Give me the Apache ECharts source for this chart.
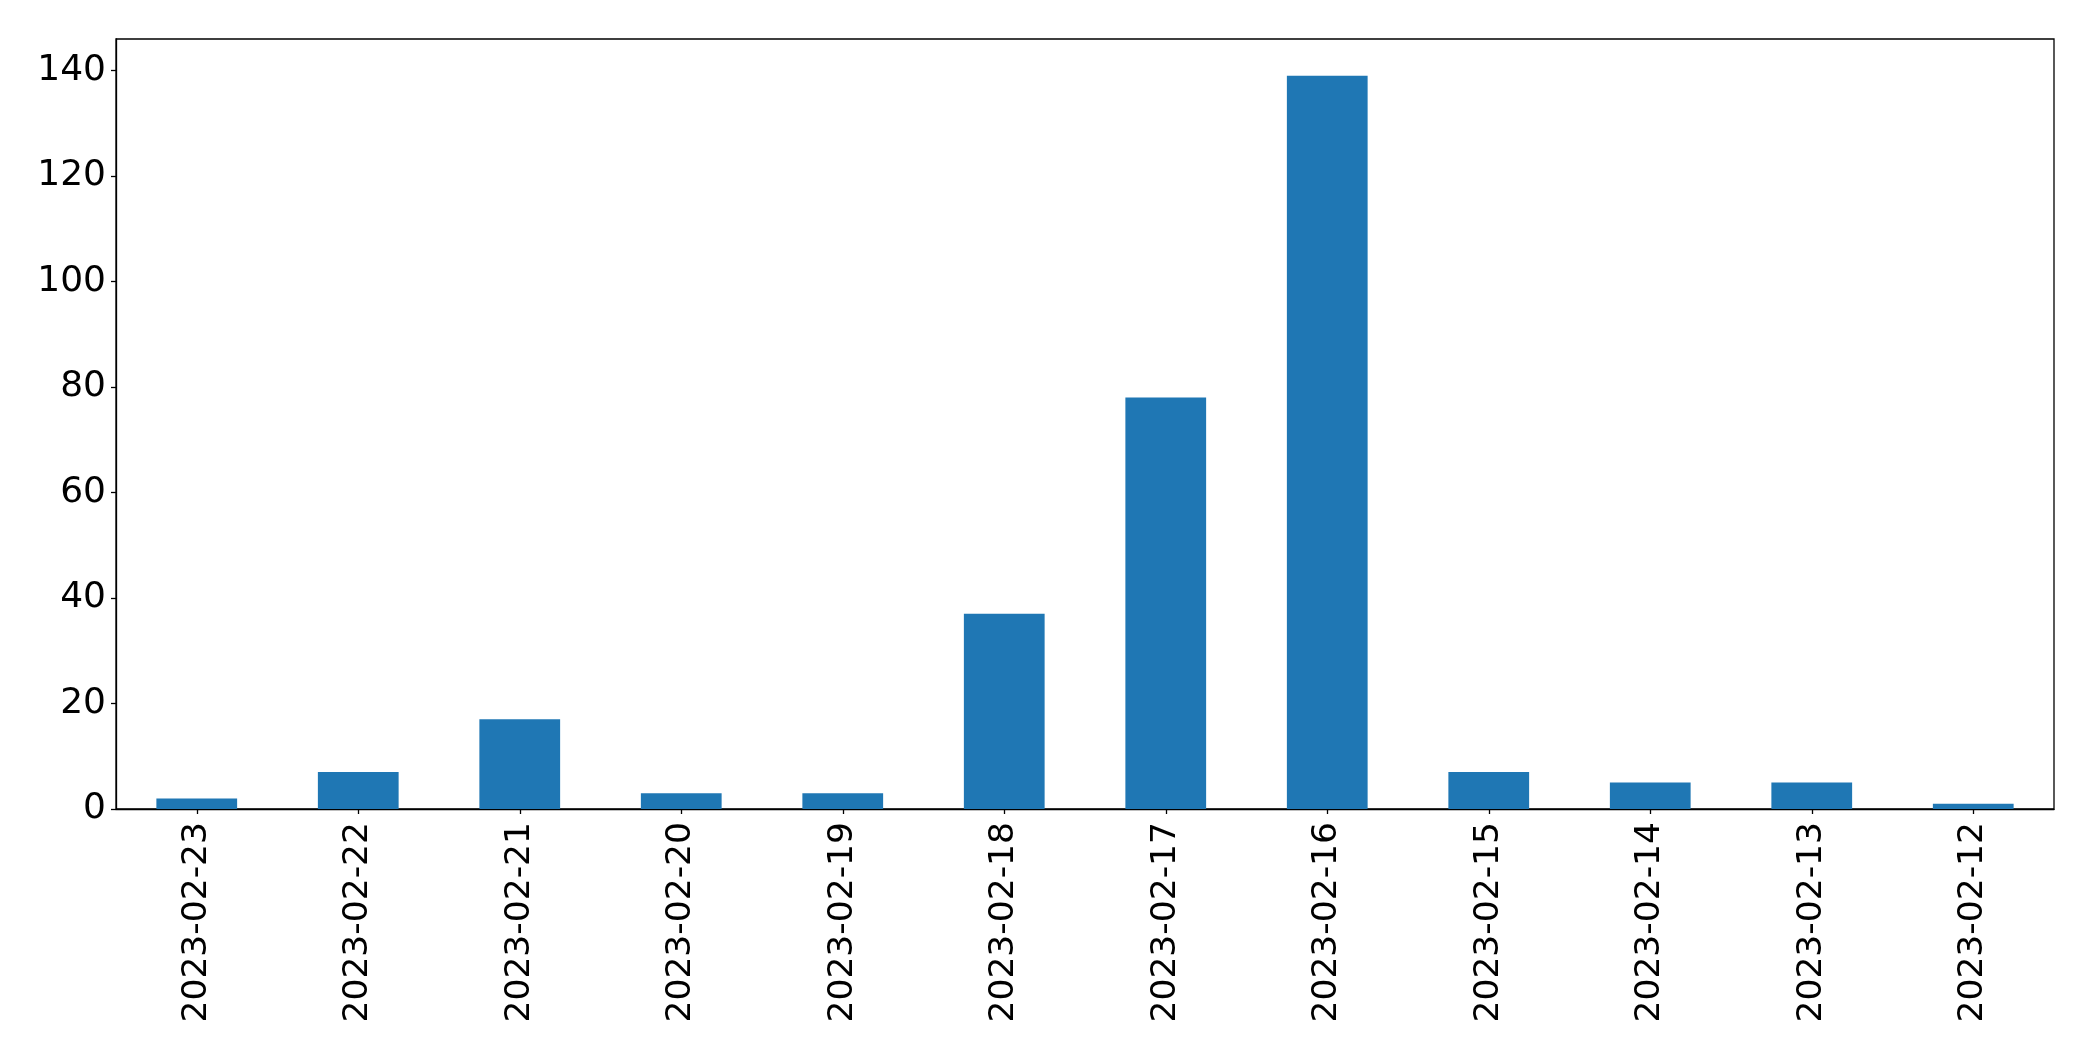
<!DOCTYPE html>
<html>
<head>
<meta charset="utf-8">
<script src="https://cdn.jsdelivr.net/npm/echarts@6/dist/echarts.min.js"></script>
<style>html,body{margin:0;padding:0;background:#fff;}#c{width:2093px;height:1061px;}</style>
</head>
<body>
<div id="c"></div>
<script>
const categories = ['2023-02-23','2023-02-22','2023-02-21','2023-02-20','2023-02-19','2023-02-18','2023-02-17','2023-02-16','2023-02-15','2023-02-14','2023-02-13','2023-02-12'];
const counts = [2, 7, 17, 3, 3, 37, 78, 139, 7, 5, 5, 1];
const yTicks = [0, 20, 40, 60, 80, 100, 120, 140];

const chart = echarts.init(document.getElementById('c'), null, {renderer: 'canvas'});
const font = 'DejaVu Sans';
chart.setOption({
  animation: false,
  backgroundColor: '#ffffff',
  grid: {left: 116, top: 39, right: 39, bottom: 252, show: true, borderColor: '#000', borderWidth: 1.3, backgroundColor: 'transparent'},
  xAxis: {
    type: 'category',
    data: categories,
    boundaryGap: true,
    axisLine: {show: true, lineStyle: {color: '#000', width: 1.3}},
    axisTick: {show: true, alignWithLabel: true, length: 5, lineStyle: {color: '#000', width: 1.3}},
    axisLabel: {rotate: 90, fontSize: 34.5, fontFamily: font, color: '#000', margin: 13, interval: 0},
    splitLine: {show: false}
  },
  yAxis: {
    type: 'value',
    min: 0,
    max: 145.95,
    interval: 20,
    axisLine: {show: true, lineStyle: {color: '#000', width: 1.3}},
    axisTick: {show: true, length: 5, customValues: yTicks, lineStyle: {color: '#000', width: 1.3}},
    axisLabel: {fontSize: 36, fontFamily: font, color: '#000', margin: 10, customValues: yTicks,
      formatter: v => yTicks.includes(v) ? String(v) : ''},
    splitLine: {show: false}
  },
  series: [{
    type: 'bar',
    data: counts,
    barWidth: '50%',
    itemStyle: {color: '#1f77b4'}
  }]
});
</script>
</body>
</html>
